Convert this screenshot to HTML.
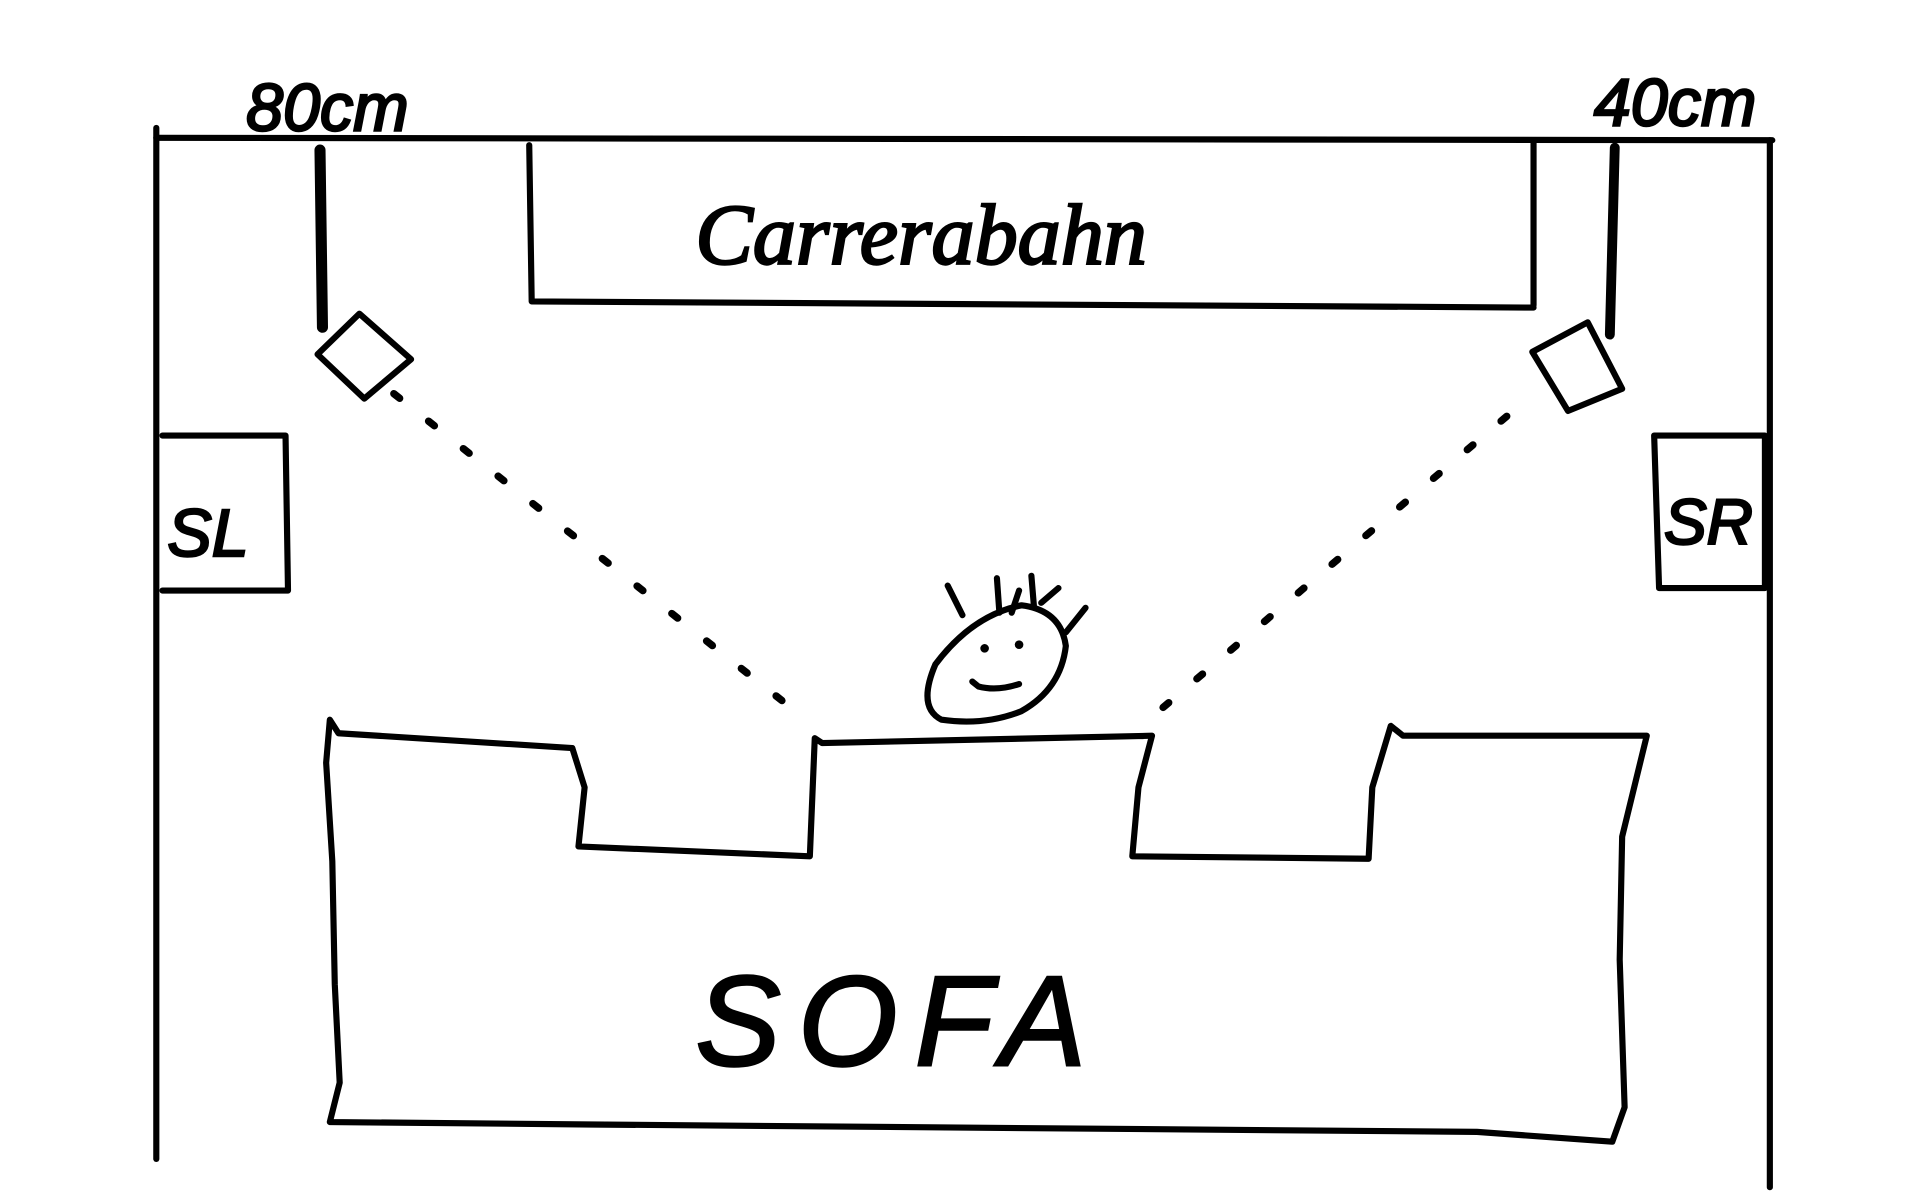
<!DOCTYPE html>
<html><head><style>html,body{margin:0;padding:0;background:#fff;}svg{display:block}</style></head>
<body>
<svg width="1920" height="1202" viewBox="0 0 1560 977" preserveAspectRatio="none" xmlns="http://www.w3.org/2000/svg">
<g fill="none" stroke="#000" stroke-width="5" stroke-linecap="round" stroke-linejoin="round">
<path d="M127 104 L127 942"/>
<path d="M127 112 L1440 114"/>
<path d="M1438 114 L1438 965"/>
<path d="M430 118 L432 245 L1246 250"/>
<path d="M1246 116 L1246 248"/>
<path d="M260 122 L262 266" stroke-width="9"/>
<path d="M1312 120 L1308 272" stroke-width="8"/>
<path d="M258 288 L292 255 L334 292 L296 324 Z"/>
<path d="M1245 286 L1290 262 L1318 316 L1274 334 Z"/>
<path d="M132 354 L232 354 L234 480 L132 480"/>
<path d="M1344 354 L1434 354 L1434 478 L1348 478 Z"/>
<path d="M268 585 L265 620 L270 700 L272 800 L276 880 L268 912 L480 914 L1200 920 L1310 928 L1320 900 L1316 780 L1318 680 L1338 598 L1140 598 L1130 590 L1115 640 L1112 698 L920 696 L925 640 L936 598 L668 604 L662 600 L658 696 L470 688 L475 640 L465 608 L275 596 Z"/>
<path d="M760 540 Q790 500 830 492 Q862 496 866 525 Q862 560 830 578 Q800 590 765 585 Q745 575 760 540 Z"/>
<path d="M790 554 L795 558 Q810 562 828 556"/>
<path d="M770 476 L782 500 M810 470 L812 498 M822 498 L828 480 M838 468 L840 492 M846 490 L860 478 M866 514 L882 494"/>
</g>
<g fill="#000">
<circle cx="800" cy="527" r="3.5"/><circle cx="828" cy="524" r="3.5"/>
</g>
<g stroke="#000" stroke-width="6" stroke-linecap="round" stroke-dasharray="6 30" fill="none">
<path d="M320 320 L655 585"/>
<path d="M945 575 L1240 325"/>
</g>
<g font-family="'Liberation Sans', sans-serif" font-style="italic" fill="#000" stroke="#000" stroke-width="2">
<text x="200" y="106" font-size="54">80cm</text>
<text x="1295" y="102" font-size="54">40cm</text>
<text x="565" y="214" font-size="70" font-family="'Liberation Serif', serif">Carrerabahn</text>
<text x="136" y="452" font-size="54">SL</text>
<text x="1352" y="442" font-size="52">SR</text>
<text x="565" y="866" font-size="104" letter-spacing="14">SOFA</text>
</g>
</svg>
</body></html>
